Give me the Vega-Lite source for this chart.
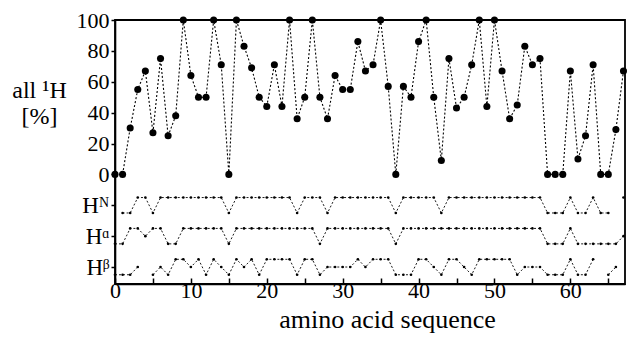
{
  "$schema": "https://vega.github.io/schema/vega-lite/v6.json",
  "width": 510,
  "height": 264,
  "autosize": {"type": "none"},
  "padding": {"left": 115, "top": 20, "right": 3, "bottom": 54},
  "background": "white",
  "config": {
    "view": {"stroke": "black", "strokeWidth": 1.8},
    "font": "Liberation Serif",
    "axis": {
      "domainColor": "black",
      "domainWidth": 1.6,
      "tickColor": "black",
      "tickWidth": 1.5,
      "labelColor": "black",
      "titleColor": "black",
      "labelFont": "Liberation Serif",
      "titleFont": "Liberation Serif",
      "labelFontSize": 22,
      "titleFontWeight": "normal",
      "grid": false
    }
  },
  "datasets": {
    "all": [
      {"residue": 0, "value": 0}, {"residue": 1, "value": 0}, {"residue": 2, "value": 30}, {"residue": 3, "value": 55},
      {"residue": 4, "value": 67}, {"residue": 5, "value": 27}, {"residue": 6, "value": 75}, {"residue": 7, "value": 25},
      {"residue": 8, "value": 38}, {"residue": 9, "value": 100}, {"residue": 10, "value": 64}, {"residue": 11, "value": 50},
      {"residue": 12, "value": 50}, {"residue": 13, "value": 100}, {"residue": 14, "value": 71}, {"residue": 15, "value": 0},
      {"residue": 16, "value": 100}, {"residue": 17, "value": 83}, {"residue": 18, "value": 69}, {"residue": 19, "value": 50},
      {"residue": 20, "value": 44}, {"residue": 21, "value": 71}, {"residue": 22, "value": 44}, {"residue": 23, "value": 100},
      {"residue": 24, "value": 36}, {"residue": 25, "value": 50}, {"residue": 26, "value": 100}, {"residue": 27, "value": 50},
      {"residue": 28, "value": 36}, {"residue": 29, "value": 64}, {"residue": 30, "value": 55}, {"residue": 31, "value": 55},
      {"residue": 32, "value": 86}, {"residue": 33, "value": 67}, {"residue": 34, "value": 71}, {"residue": 35, "value": 100},
      {"residue": 36, "value": 57}, {"residue": 37, "value": 0}, {"residue": 38, "value": 57}, {"residue": 39, "value": 50},
      {"residue": 40, "value": 86}, {"residue": 41, "value": 100}, {"residue": 42, "value": 50}, {"residue": 43, "value": 9},
      {"residue": 44, "value": 75}, {"residue": 45, "value": 43}, {"residue": 46, "value": 50}, {"residue": 47, "value": 71},
      {"residue": 48, "value": 100}, {"residue": 49, "value": 44}, {"residue": 50, "value": 100}, {"residue": 51, "value": 67},
      {"residue": 52, "value": 36}, {"residue": 53, "value": 45}, {"residue": 54, "value": 83}, {"residue": 55, "value": 71},
      {"residue": 56, "value": 75}, {"residue": 57, "value": 0}, {"residue": 58, "value": 0}, {"residue": 59, "value": 0},
      {"residue": 60, "value": 67}, {"residue": 61, "value": 10}, {"residue": 62, "value": 25}, {"residue": 63, "value": 71},
      {"residue": 64, "value": 0}, {"residue": 65, "value": 0}, {"residue": 66, "value": 29}, {"residue": 67, "value": 67}
    ],
    "rows": [
      {"atom": "HN", "residue": 0, "value": null}, {"atom": "HN", "residue": 1, "value": -25}, {"atom": "HN", "residue": 2, "value": -25},
      {"atom": "HN", "residue": 3, "value": -15}, {"atom": "HN", "residue": 4, "value": -15}, {"atom": "HN", "residue": 5, "value": -25},
      {"atom": "HN", "residue": 6, "value": -15}, {"atom": "HN", "residue": 7, "value": -15}, {"atom": "HN", "residue": 8, "value": -15},
      {"atom": "HN", "residue": 9, "value": -15}, {"atom": "HN", "residue": 10, "value": -15}, {"atom": "HN", "residue": 11, "value": -15},
      {"atom": "HN", "residue": 12, "value": -15}, {"atom": "HN", "residue": 13, "value": -15}, {"atom": "HN", "residue": 14, "value": -15},
      {"atom": "HN", "residue": 15, "value": -25}, {"atom": "HN", "residue": 16, "value": -15}, {"atom": "HN", "residue": 17, "value": -15},
      {"atom": "HN", "residue": 18, "value": -15}, {"atom": "HN", "residue": 19, "value": -15}, {"atom": "HN", "residue": 20, "value": -15},
      {"atom": "HN", "residue": 21, "value": -15}, {"atom": "HN", "residue": 22, "value": -15}, {"atom": "HN", "residue": 23, "value": -15},
      {"atom": "HN", "residue": 24, "value": -25}, {"atom": "HN", "residue": 25, "value": -15}, {"atom": "HN", "residue": 26, "value": -15},
      {"atom": "HN", "residue": 27, "value": -15}, {"atom": "HN", "residue": 28, "value": -25}, {"atom": "HN", "residue": 29, "value": -15},
      {"atom": "HN", "residue": 30, "value": -15}, {"atom": "HN", "residue": 31, "value": -15}, {"atom": "HN", "residue": 32, "value": -15},
      {"atom": "HN", "residue": 33, "value": -15}, {"atom": "HN", "residue": 34, "value": -15}, {"atom": "HN", "residue": 35, "value": -15},
      {"atom": "HN", "residue": 36, "value": -15}, {"atom": "HN", "residue": 37, "value": -25}, {"atom": "HN", "residue": 38, "value": -15},
      {"atom": "HN", "residue": 39, "value": -15}, {"atom": "HN", "residue": 40, "value": -15}, {"atom": "HN", "residue": 41, "value": -15},
      {"atom": "HN", "residue": 42, "value": -15}, {"atom": "HN", "residue": 43, "value": -25}, {"atom": "HN", "residue": 44, "value": -15},
      {"atom": "HN", "residue": 45, "value": -15}, {"atom": "HN", "residue": 46, "value": -15}, {"atom": "HN", "residue": 47, "value": -15},
      {"atom": "HN", "residue": 48, "value": -15}, {"atom": "HN", "residue": 49, "value": -15}, {"atom": "HN", "residue": 50, "value": -15},
      {"atom": "HN", "residue": 51, "value": -15}, {"atom": "HN", "residue": 52, "value": -15}, {"atom": "HN", "residue": 53, "value": -15},
      {"atom": "HN", "residue": 54, "value": -15}, {"atom": "HN", "residue": 55, "value": -15}, {"atom": "HN", "residue": 56, "value": -15},
      {"atom": "HN", "residue": 57, "value": -25}, {"atom": "HN", "residue": 58, "value": -25}, {"atom": "HN", "residue": 59, "value": -25},
      {"atom": "HN", "residue": 60, "value": -15}, {"atom": "HN", "residue": 61, "value": -25}, {"atom": "HN", "residue": 62, "value": -25},
      {"atom": "HN", "residue": 63, "value": -15}, {"atom": "HN", "residue": 64, "value": -25}, {"atom": "HN", "residue": 65, "value": -25},
      {"atom": "HN", "residue": 66, "value": null}, {"atom": "HN", "residue": 67, "value": -15},

      {"atom": "HA", "residue": 0, "value": -45}, {"atom": "HA", "residue": 1, "value": -45}, {"atom": "HA", "residue": 2, "value": -35},
      {"atom": "HA", "residue": 3, "value": -35}, {"atom": "HA", "residue": 4, "value": -40}, {"atom": "HA", "residue": 5, "value": -35},
      {"atom": "HA", "residue": 6, "value": -35}, {"atom": "HA", "residue": 7, "value": -45}, {"atom": "HA", "residue": 8, "value": -45},
      {"atom": "HA", "residue": 9, "value": -35}, {"atom": "HA", "residue": 10, "value": -35}, {"atom": "HA", "residue": 11, "value": -35},
      {"atom": "HA", "residue": 12, "value": -35}, {"atom": "HA", "residue": 13, "value": -35}, {"atom": "HA", "residue": 14, "value": -35},
      {"atom": "HA", "residue": 15, "value": -45}, {"atom": "HA", "residue": 16, "value": -35}, {"atom": "HA", "residue": 17, "value": -35},
      {"atom": "HA", "residue": 18, "value": -35}, {"atom": "HA", "residue": 19, "value": -35}, {"atom": "HA", "residue": 20, "value": -35},
      {"atom": "HA", "residue": 21, "value": -35}, {"atom": "HA", "residue": 22, "value": -35}, {"atom": "HA", "residue": 23, "value": -35},
      {"atom": "HA", "residue": 24, "value": -35}, {"atom": "HA", "residue": 25, "value": -35}, {"atom": "HA", "residue": 26, "value": -35},
      {"atom": "HA", "residue": 27, "value": -45}, {"atom": "HA", "residue": 28, "value": -35}, {"atom": "HA", "residue": 29, "value": -35},
      {"atom": "HA", "residue": 30, "value": -35}, {"atom": "HA", "residue": 31, "value": -35}, {"atom": "HA", "residue": 32, "value": -35},
      {"atom": "HA", "residue": 33, "value": -35}, {"atom": "HA", "residue": 34, "value": -35}, {"atom": "HA", "residue": 35, "value": -35},
      {"atom": "HA", "residue": 36, "value": -35}, {"atom": "HA", "residue": 37, "value": -45}, {"atom": "HA", "residue": 38, "value": -35},
      {"atom": "HA", "residue": 39, "value": -35}, {"atom": "HA", "residue": 40, "value": -35}, {"atom": "HA", "residue": 41, "value": -35},
      {"atom": "HA", "residue": 42, "value": -35}, {"atom": "HA", "residue": 43, "value": -35}, {"atom": "HA", "residue": 44, "value": -35},
      {"atom": "HA", "residue": 45, "value": -35}, {"atom": "HA", "residue": 46, "value": -35}, {"atom": "HA", "residue": 47, "value": -35},
      {"atom": "HA", "residue": 48, "value": -35}, {"atom": "HA", "residue": 49, "value": -35}, {"atom": "HA", "residue": 50, "value": -35},
      {"atom": "HA", "residue": 51, "value": -35}, {"atom": "HA", "residue": 52, "value": -35}, {"atom": "HA", "residue": 53, "value": -35},
      {"atom": "HA", "residue": 54, "value": -35}, {"atom": "HA", "residue": 55, "value": -35}, {"atom": "HA", "residue": 56, "value": -35},
      {"atom": "HA", "residue": 57, "value": -45}, {"atom": "HA", "residue": 58, "value": -45}, {"atom": "HA", "residue": 59, "value": -45},
      {"atom": "HA", "residue": 60, "value": -35}, {"atom": "HA", "residue": 61, "value": -45}, {"atom": "HA", "residue": 62, "value": -45},
      {"atom": "HA", "residue": 63, "value": -45}, {"atom": "HA", "residue": 64, "value": -45}, {"atom": "HA", "residue": 65, "value": -45},
      {"atom": "HA", "residue": 66, "value": -45}, {"atom": "HA", "residue": 67, "value": -40},

      {"atom": "HB", "residue": 0, "value": -65}, {"atom": "HB", "residue": 1, "value": -65}, {"atom": "HB", "residue": 2, "value": -65},
      {"atom": "HB", "residue": 3, "value": -60}, {"atom": "HB", "residue": 4, "value": null}, {"atom": "HB", "residue": 5, "value": -65},
      {"atom": "HB", "residue": 6, "value": -60}, {"atom": "HB", "residue": 7, "value": -65}, {"atom": "HB", "residue": 8, "value": -55},
      {"atom": "HB", "residue": 9, "value": -55}, {"atom": "HB", "residue": 10, "value": -60}, {"atom": "HB", "residue": 11, "value": -55},
      {"atom": "HB", "residue": 12, "value": -65}, {"atom": "HB", "residue": 13, "value": -55}, {"atom": "HB", "residue": 14, "value": -60},
      {"atom": "HB", "residue": 15, "value": -65}, {"atom": "HB", "residue": 16, "value": -55}, {"atom": "HB", "residue": 17, "value": -60},
      {"atom": "HB", "residue": 18, "value": -55}, {"atom": "HB", "residue": 19, "value": -65}, {"atom": "HB", "residue": 20, "value": -55},
      {"atom": "HB", "residue": 21, "value": -55}, {"atom": "HB", "residue": 22, "value": -55}, {"atom": "HB", "residue": 23, "value": -55},
      {"atom": "HB", "residue": 24, "value": -65}, {"atom": "HB", "residue": 25, "value": -55}, {"atom": "HB", "residue": 26, "value": -55},
      {"atom": "HB", "residue": 27, "value": -65}, {"atom": "HB", "residue": 28, "value": -60}, {"atom": "HB", "residue": 29, "value": -60},
      {"atom": "HB", "residue": 30, "value": -60}, {"atom": "HB", "residue": 31, "value": -60}, {"atom": "HB", "residue": 32, "value": -55},
      {"atom": "HB", "residue": 33, "value": -60}, {"atom": "HB", "residue": 34, "value": -55}, {"atom": "HB", "residue": 35, "value": -55},
      {"atom": "HB", "residue": 36, "value": -55}, {"atom": "HB", "residue": 37, "value": -65}, {"atom": "HB", "residue": 38, "value": -65},
      {"atom": "HB", "residue": 39, "value": -65}, {"atom": "HB", "residue": 40, "value": -55}, {"atom": "HB", "residue": 41, "value": -55},
      {"atom": "HB", "residue": 42, "value": -60}, {"atom": "HB", "residue": 43, "value": -65}, {"atom": "HB", "residue": 44, "value": -55},
      {"atom": "HB", "residue": 45, "value": -55}, {"atom": "HB", "residue": 46, "value": -60}, {"atom": "HB", "residue": 47, "value": -65},
      {"atom": "HB", "residue": 48, "value": -55}, {"atom": "HB", "residue": 49, "value": -55}, {"atom": "HB", "residue": 50, "value": -55},
      {"atom": "HB", "residue": 51, "value": -55}, {"atom": "HB", "residue": 52, "value": -55}, {"atom": "HB", "residue": 53, "value": -65},
      {"atom": "HB", "residue": 54, "value": -60}, {"atom": "HB", "residue": 55, "value": -60}, {"atom": "HB", "residue": 56, "value": -60},
      {"atom": "HB", "residue": 57, "value": -65}, {"atom": "HB", "residue": 58, "value": -65}, {"atom": "HB", "residue": 59, "value": -65},
      {"atom": "HB", "residue": 60, "value": -55}, {"atom": "HB", "residue": 61, "value": -65}, {"atom": "HB", "residue": 62, "value": -65},
      {"atom": "HB", "residue": 63, "value": -55}, {"atom": "HB", "residue": 64, "value": null}, {"atom": "HB", "residue": 65, "value": -65},
      {"atom": "HB", "residue": 66, "value": -60}, {"atom": "HB", "residue": 67, "value": null}
    ]
  },
  "encoding": {
    "x": {
      "field": "residue",
      "type": "quantitative",
      "scale": {"domain": [0, 67.2], "nice": false, "zero": false},
      "axis": {
        "values": [0, 5, 10, 15, 20, 25, 30, 35, 40, 45, 50, 55, 60, 65],
        "labelExpr": "datum.value % 10 === 0 ? datum.label : ''",
        "tickSize": -6,
        "labelPadding": 2,
        "labelFlush": false,
        "title": "amino acid sequence",
        "titleFontSize": 26,
        "titleX": 272,
        "titleY": 43,
        "titleBaseline": "alphabetic",
        "titleAnchor": "middle",
        "titleAlign": "center"
      }
    },
    "y": {
      "field": "value",
      "type": "quantitative",
      "scale": {"domain": [-71, 100], "nice": false, "zero": false},
      "axis": {
        "values": [100, 80, 60, 40, 20, 0, -20, -40, -60],
        "labelExpr": "datum.value === -20 ? 'H\u1D3A' : datum.value === -40 ? 'H\u1D45' : datum.value === -60 ? 'H\u1D5D' : datum.label",
        "labelFontSize": {"condition": {"test": "datum.value < 0", "value": 23}, "value": 22},
        "tickSize": 4,
        "labelPadding": 2,
        "labelFlush": false,
        "title": ["all \u00B9H", "[%]"],
        "titleAngle": 0,
        "titleFontSize": 24,
        "titleAlign": "center",
        "titleBaseline": "alphabetic",
        "titleX": -76,
        "titleY": 77,
        "titleLineHeight": 26
      }
    }
  },
  "layer": [
    {
      "data": {"name": "all"},
      "mark": {"type": "line", "color": "black", "strokeWidth": 1.1, "strokeDash": [2, 2]}
    },
    {
      "data": {"name": "all"},
      "mark": {"type": "point", "filled": true, "color": "black", "size": 50, "opacity": 1}
    },
    {
      "data": {"name": "rows"},
      "mark": {"type": "line", "color": "black", "strokeWidth": 0.9, "strokeDash": [2, 2], "invalid": "break-paths-filter-domains"},
      "encoding": {"detail": {"field": "atom"}}
    },
    {
      "data": {"name": "rows"},
      "mark": {"type": "point", "filled": true, "color": "black", "size": 7, "opacity": 1}
    }
  ]
}
